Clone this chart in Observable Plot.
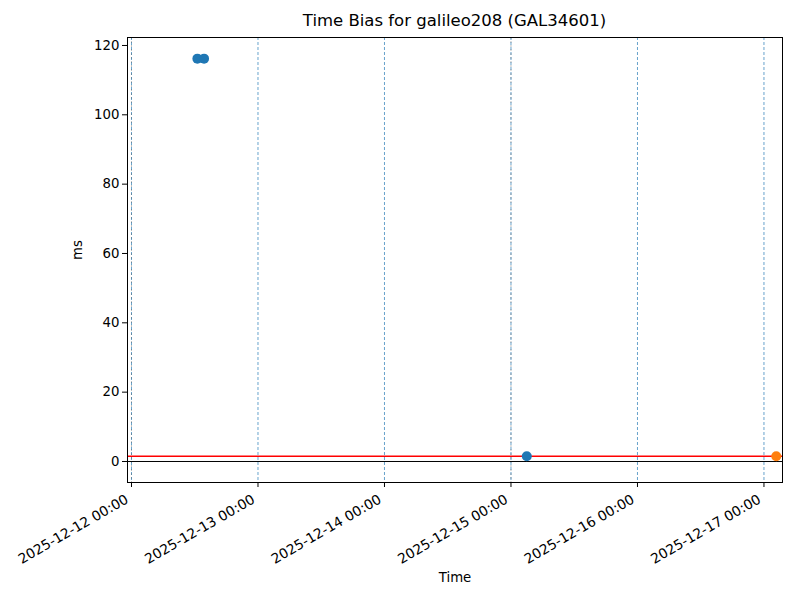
<!DOCTYPE html>
<html>
<head>
<meta charset="utf-8">
<script src="https://cdn.jsdelivr.net/npm/d3@7"></script>
<script src="https://cdn.jsdelivr.net/npm/@observablehq/plot@0.6"></script>
<style>
  html, body { margin: 0; padding: 0; background: #fff; }
  #wrap { position: relative; width: 800px; height: 600px; font-family: "DejaVu Sans", sans-serif; }
  #title { position: absolute; left: 127px; width: 655px; top: 11px; text-align: center; font-size: 16.5px; color: #000; }
  #chart { position: absolute; left: 0; top: 0; }
</style>
</head>
<body>
<div id="wrap">
  <div id="chart"></div>
  <div id="title">Time Bias for galileo208 (GAL34601)</div>
</div>
<script>
// ---- data ----
const blueTimes = ["2025-12-12T12:30:00Z", "2025-12-12T13:46:00Z", "2025-12-15T03:00:00Z"];
const blueValues = [116.2, 116.2, 1.5];
const orangeTimes = ["2025-12-17T02:20:00Z"];
const orangeValues = [1.5];
const meanLevel = 1.5;
const dayTicks = ["2025-12-12", "2025-12-13", "2025-12-14", "2025-12-15", "2025-12-16", "2025-12-17"];
const markerTimes = ["2025-12-12", "2025-12-15"];
const yTicks = [0, 20, 40, 60, 80, 100, 120];
const xDomain = ["2025-12-11T23:14:30Z", "2025-12-17T03:31:00Z"];
const yDomain = [-6.06, 122.3];

const blue = blueTimes.map((t, i) => ({t: new Date(t), v: blueValues[i]}));
const orange = orangeTimes.map((t, i) => ({t: new Date(t), v: orangeValues[i]}));
const days = dayTicks.map(d => new Date(d + "T00:00:00Z"));
const markers = markerTimes.map(d => new Date(d + "T00:00:00Z"));
const fmt = d3.utcFormat("%Y-%m-%d %H:%M");

const chart = Plot.plot({
  width: 800,
  height: 600,
  marginLeft: 127,
  marginRight: 18,
  marginTop: 37,
  marginBottom: 118,
  style: {fontFamily: "DejaVu Sans, sans-serif", fontSize: "13.3px", color: "#000", background: "#fff"},
  x: {type: "utc", domain: xDomain.map(d => new Date(d))},
  y: {domain: yDomain},
  marks: [
    Plot.ruleX(days, {stroke: "#1f77b4", strokeDasharray: "3,2", strokeWidth: 0.8, strokeOpacity: 0.85}),
    Plot.ruleX(markers, {stroke: "#555", strokeDasharray: "2,2", strokeWidth: 0.8, strokeOpacity: 0.45}),
    Plot.ruleY([0], {stroke: "#000", strokeWidth: 1}),
    Plot.ruleY([meanLevel], {stroke: "#ff0000", strokeWidth: 1.6}),
    Plot.dot(blue, {x: "t", y: "v", r: 5, fill: "#1f77b4", stroke: null}),
    Plot.dot(orange, {x: "t", y: "v", r: 5, fill: "#ff7f0e", stroke: null}),
    Plot.frame({stroke: "#000", strokeWidth: 1}),
    Plot.axisY({ticks: yTicks, tickSize: 5, tickPadding: 3, label: null, fontSize: "13.3px"}),
    Plot.axisX({ticks: days, tickFormat: () => "", tickSize: 5, label: null}),
    Plot.text(days, {x: d => d, text: d => fmt(d), frameAnchor: "bottom", rotate: -30, textAnchor: "end", lineAnchor: "top", dx: -7, dy: 11, fontSize: 13.8}),
    Plot.text(["ms"], {frameAnchor: "left", dx: -50, rotate: -90, fontSize: 13.3}),
    Plot.text(["Time"], {frameAnchor: "bottom", dy: 99, fontSize: 13.3})
  ]
});
document.getElementById("chart").appendChild(chart);
</script>
</body>
</html>
